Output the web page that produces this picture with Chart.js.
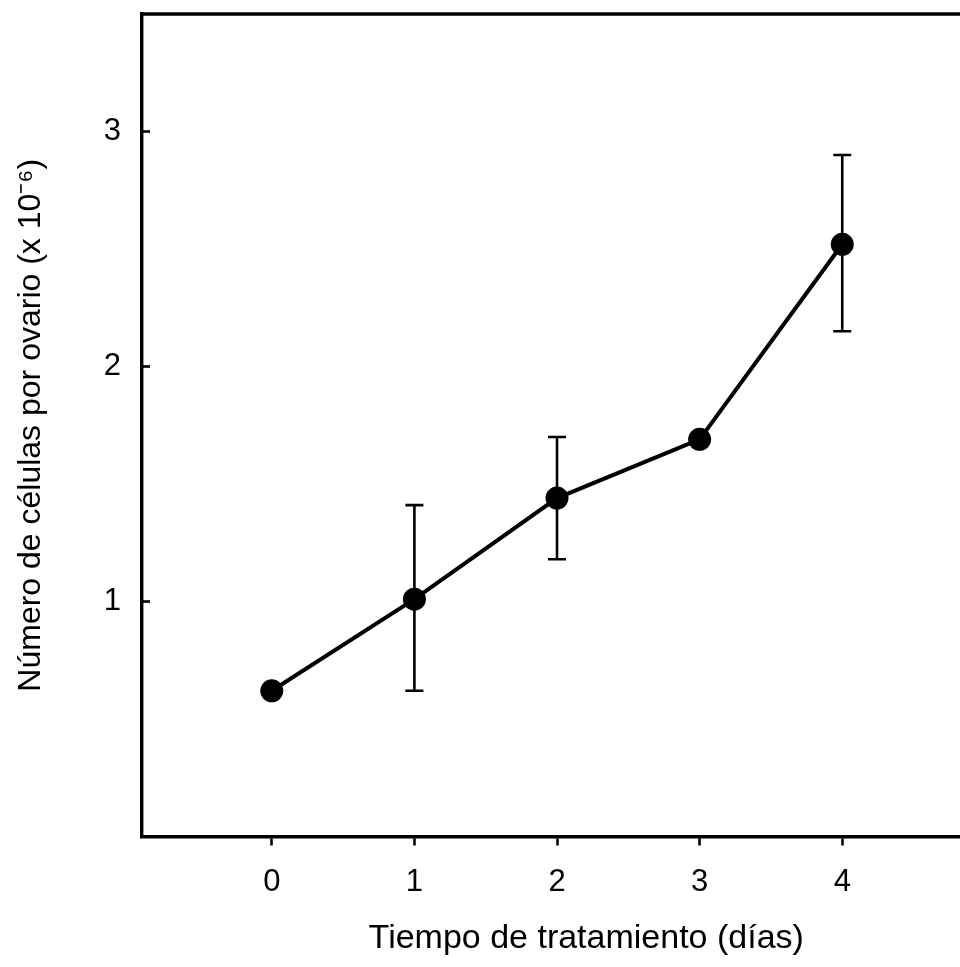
<!DOCTYPE html>
<html>
<head>
<meta charset="utf-8">
<title>Número de células por ovario</title>
<script src="https://cdn.jsdelivr.net/npm/chart.js@4/dist/chart.umd.min.js"></script>
<style>
  html, body { margin: 0; padding: 0; background: #fff; overflow: hidden; }
  body { width: 960px; height: 967px; }
  #wrap { width: 1042px; height: 967px; }
</style>
</head>
<body>
<div id="wrap"><canvas id="cellsChart"></canvas></div>
<script>
// días de tratamiento y número de células (x 10^-6)
const days = [0, 1, 2, 3, 4];
const cells = [0.62, 1.01, 1.44, 1.69, 2.52];
const errHigh = [null, 1.41, 1.70, null, 2.90];
const errLow = [null, 0.62, 1.18, null, 2.15];

const xTicks = [0, 1, 2, 3, 4];
const yTicks = [1, 2, 3];

const FONT = "'Liberation Sans', Arial, sans-serif";

// barras de error verticales con remate
const errorBars = {
    id: "errorBars",
    afterDatasetsDraw(chart) {
        const { ctx, scales: { x, y } } = chart;
        ctx.save();
        ctx.strokeStyle = "#000";
        ctx.lineWidth = 2.6;
        days.forEach((d, i) => {
            if (errHigh[i] == null) return;
            const px = x.getPixelForValue(d);
            const top = y.getPixelForValue(errHigh[i]);
            const bot = y.getPixelForValue(errLow[i]);
            ctx.beginPath();
            ctx.moveTo(px, top);
            ctx.lineTo(px, bot);
            ctx.moveTo(px - 9, top);
            ctx.lineTo(px + 9, top);
            ctx.moveTo(px - 9, bot);
            ctx.lineTo(px + 9, bot);
            ctx.stroke();
        });
        ctx.restore();
    },
};

// marco superior y marcas del eje y hacia dentro
const frame = {
    id: "frame",
    afterDraw(chart) {
        const { ctx, chartArea: a, scales: { y } } = chart;
        ctx.save();
        ctx.strokeStyle = "#000";
        ctx.lineWidth = 3.4;
        ctx.beginPath();
        ctx.moveTo(a.left - 1.7, a.top);
        ctx.lineTo(a.right, a.top);
        ctx.stroke();
        ctx.lineWidth = 2.6;
        y.ticks.forEach((t) => {
            const py = y.getPixelForValue(t.value);
            ctx.beginPath();
            ctx.moveTo(a.left, py);
            ctx.lineTo(a.left + 8, py);
            ctx.stroke();
        });
        ctx.restore();
    },
};

function renderCellsChart() {
    const ctx = document.getElementById("cellsChart").getContext("2d");

    new Chart(ctx, {
        type: "line",
        data: {
            datasets: [
                {
                    data: days.map((d, i) => ({ x: d, y: cells[i] })),
                    borderColor: "#000",
                    borderWidth: 4,
                    pointRadius: 11.5,
                    pointBackgroundColor: "#000",
                    pointBorderColor: "#000",
                    pointBorderWidth: 0,
                    fill: false,
                    tension: 0,
                },
            ],
        },
        options: {
            responsive: true,
            maintainAspectRatio: false,
            animation: false,
            layout: { padding: { top: 14, left: 0, right: 0, bottom: 0 } },
            plugins: {
                legend: { display: false },
                tooltip: { enabled: false },
            },
            scales: {
                x: {
                    type: "linear",
                    min: -0.91,
                    max: 5.32,
                    afterBuildTicks: (s) => { s.ticks = xTicks.map((v) => ({ value: v })); },
                    afterFit: (s) => {
                        s.height = 130.5;
                        s.paddingLeft = 0;
                        s.paddingRight = 0;
                    },
                    grid: {
                        drawOnChartArea: false,
                        drawTicks: true,
                        tickLength: 9,
                        tickWidth: 2.6,
                        tickColor: "#000",
                    },
                    border: { display: true, color: "#000", width: 3.4 },
                    ticks: {
                        color: "#000",
                        padding: 18,
                        font: { family: FONT, size: 31 },
                        maxRotation: 0,
                    },
                    title: {
                        display: true,
                        text: "Tiempo de tratamiento (días)",
                        color: "#000",
                        font: { family: FONT, size: 34 },
                        padding: { top: 0, bottom: 8 },
                    },
                },
                y: {
                    min: 0,
                    max: 3.5,
                    afterBuildTicks: (s) => { s.ticks = yTicks.map((v) => ({ value: v })); },
                    afterFit: (s) => {
                        s.width = 142;
                        s.paddingTop = 0;
                        s.paddingBottom = 0;
                    },
                    grid: {
                        drawOnChartArea: false,
                        drawTicks: false,
                    },
                    border: { display: true, color: "#000", width: 3.4 },
                    ticks: {
                        color: "#000",
                        padding: 21,
                        font: { family: FONT, size: 31 },
                    },
                    title: {
                        display: true,
                        text: "Número de células por ovario (x 10⁻⁶)",
                        color: "#000",
                        font: { family: FONT, size: 32 },
                        padding: { top: 12, bottom: 0 },
                    },
                },
            },
        },
        plugins: [errorBars, frame],
    });
}

document.addEventListener("DOMContentLoaded", renderCellsChart);
</script>
</body>
</html>
